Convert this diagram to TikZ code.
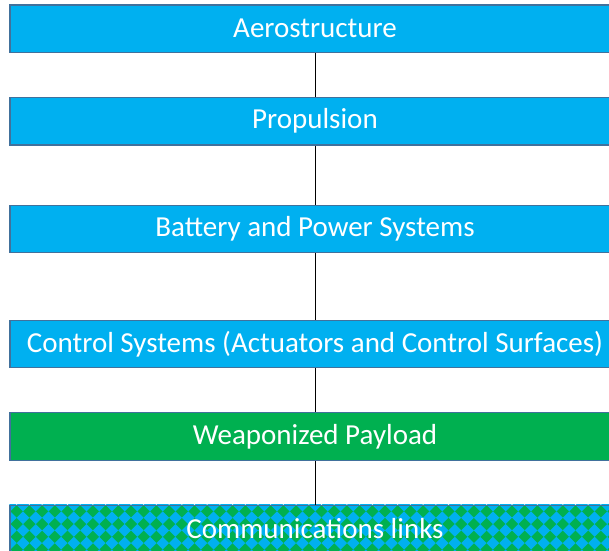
\documentclass[tikz,border=0pt]{standalone}
\usepackage{fontspec}
\setmainfont{Carlito}
\usetikzlibrary{positioning,backgrounds}
\definecolor{layerblue}{RGB}{0,176,240}
\definecolor{layergreen}{RGB}{0,176,80}
\definecolor{layeredge}{RGB}{65,113,156}

\begin{document}
\begin{tikzpicture}[
    x=1pt, y=-1pt,
    layer/.style={draw=layeredge, line width=1.2pt, fill=layerblue, minimum width=610pt,
      minimum height=47.5pt, inner sep=0pt, text=white, font=\fontsize{29}{34}\selectfont},
    link/.style={draw=black, line width=0.9pt}
  ]
    \useasboundingbox (0,0) rectangle (609,550);
    \clip (0,0) rectangle (609,550);
    \node[layer] (aero) at (315,28.75) {Aerostructure};
    \node[layer] (prop) at (315,121.25) {Propulsion};
    \node[layer] (batt) at (315,229) {Battery and Power Systems};
    \node[layer] (ctrl) at (315,344) {Control Systems (Actuators and Control Surfaces)};
    \node[layer, fill=layergreen] (weap) at (315,436.5) {Weaponized Payload};
    \node[layer, fill=none] (comm) at (315,529) {Communications links};
    % diamond pattern behind the last box
    \begin{pgfonlayer}{background}
      \fill[layergreen] (comm.north west) rectangle (comm.south east);
      \clip (comm.north west) rectangle (comm.south east);
      \foreach \i in {0,...,49} {
        \foreach \j in {0,...,4} {
          \fill[layerblue] (4+\i*12.7,505+\j*12.7) -- ++(6.35,-6.35) -- ++(6.35,6.35) -- ++(-6.35,6.35) -- cycle;
        }
      }
    \end{pgfonlayer}
    \draw[link] (aero) -- (prop);
    \draw[link] (prop) -- (batt);
    \draw[link] (batt) -- (ctrl);
    \draw[link] (ctrl) -- (weap);
    \draw[link] (weap) -- (comm);
  \end{tikzpicture}
\end{document}
